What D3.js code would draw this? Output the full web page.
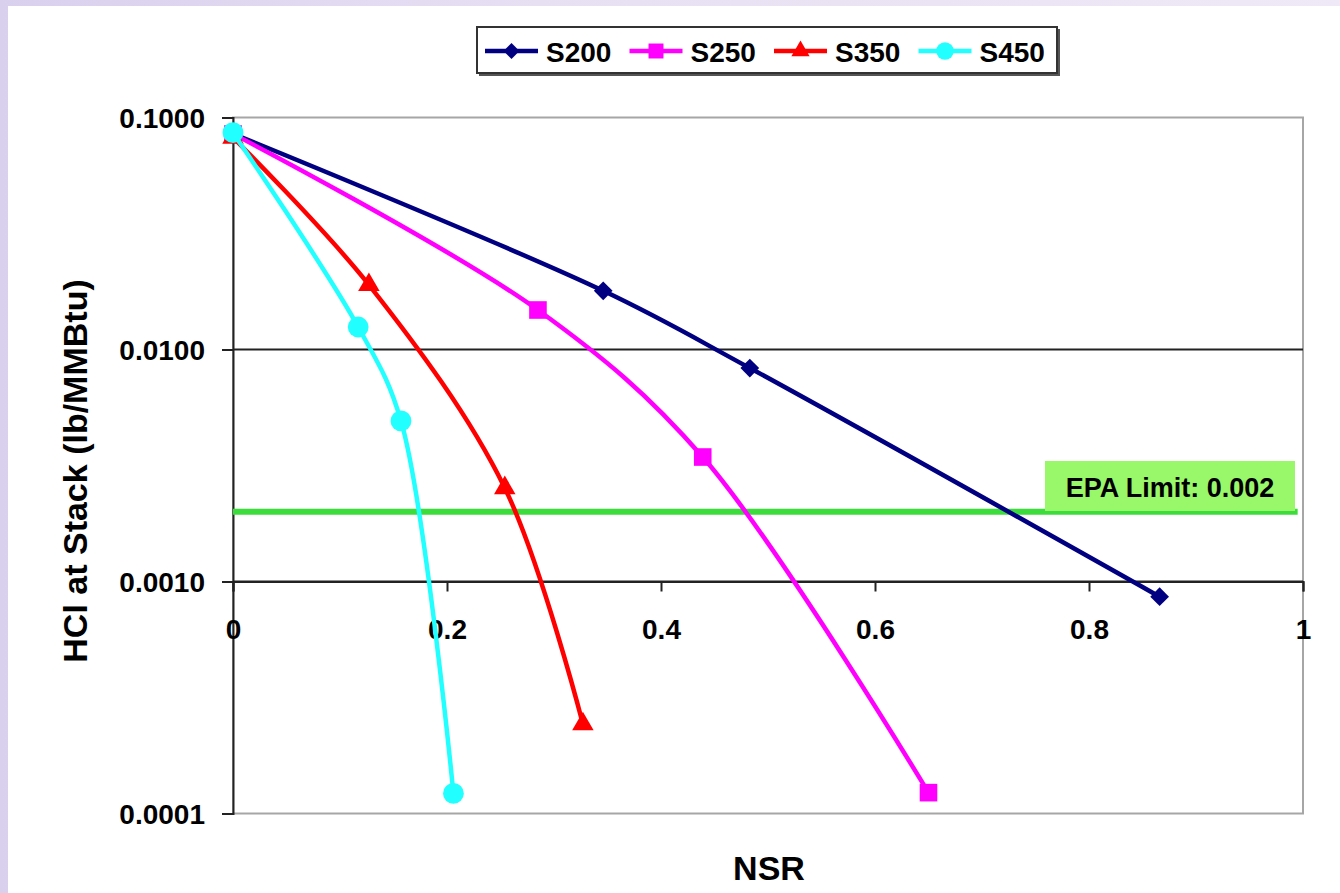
<!DOCTYPE html>
<html>
<head>
<meta charset="utf-8">
<script src="https://cdn.jsdelivr.net/npm/d3@7"></script>
<style>
  html, body { margin: 0; padding: 0; }
  body { width: 1340px; height: 893px; overflow: hidden;
         background: linear-gradient(90deg, #d9d0ee 0%, #e7e0f3 40%, #efe8f6 100%); }
  svg { display: block; font-family: "Liberation Sans", Arial, sans-serif; }
</style>
</head>
<body>
<svg id="chart" width="1340" height="893"></svg>
<script>
// ---- data ----
const seriesNames = ["S200", "S250", "S350", "S450"];
const seriesColors = ["#000080", "#ff00ff", "#ff0000", "#22ffff"];
const seriesMarkers = ["diamond", "square", "triangle", "circle"];
const s200X = [0, 0.346, 0.483, 0.866];
const s200Y = [0.085, 0.0179, 0.00832, 0.00086];
const s250X = [0, 0.285, 0.439, 0.650];
const s250Y = [0.085, 0.0148, 0.00344, 0.000123];
const s350X = [0, 0.127, 0.254, 0.327];
const s350Y = [0.082, 0.019, 0.00253, 0.000243];
const s450X = [0, 0.117, 0.157, 0.206];
const s450Y = [0.086, 0.0125, 0.00492, 0.000122];
const xTicks = [0, 0.2, 0.4, 0.6, 0.8, 1];
const xTickLabels = ["0", "0.2", "0.4", "0.6", "0.8", "1"];
const yTicks = [0.1, 0.01, 0.001, 0.0001];
const yTickLabels = ["0.1000", "0.0100", "0.0010", "0.0001"];
const yGridValues = [0.01, 0.001];
const xAxisCross = 0.001;
const epaLimit = [0.002];
const epaXRange = [0, 0.995];
const epaLabel = "EPA Limit: 0.002";
const xTitle = "NSR";
const yTitle = "HCl at Stack (lb/MMBtu)";

const series = [
  { name: seriesNames[0], xs: s200X, ys: s200Y },
  { name: seriesNames[1], xs: s250X, ys: s250Y },
  { name: seriesNames[2], xs: s350X, ys: s350Y },
  { name: seriesNames[3], xs: s450X, ys: s450Y }
].map((s, i) => ({ ...s, color: seriesColors[i], marker: seriesMarkers[i],
                   pts: s.xs.map((x, j) => [x, s.ys[j]]) }));

// ---- layout ----
const svg = d3.select("#chart");
const L = 233, R = 1303, T = 117.5, B = 813.5;
const x = d3.scaleLinear().domain([0, 1]).range([L, R]);
const y = d3.scaleLog().domain([0.0001, 0.1]).range([B, T]);

// white chart area
svg.append("rect").attr("x", 8).attr("y", 6).attr("width", 1332).attr("height", 887).attr("fill", "#ffffff");

// plot border (gray)
svg.append("rect").attr("x", L).attr("y", T).attr("width", R - L).attr("height", B - T)
  .attr("fill", "none").attr("stroke", "#a6a6a6").attr("stroke-width", 2);

// gridlines
svg.append("g").selectAll("line").data(yGridValues).join("line")
  .attr("x1", L).attr("x2", R).attr("y1", d => y(d)).attr("y2", d => y(d))
  .attr("stroke", "#222222").attr("stroke-width", 2);

// y axis
const yAxis = d3.axisLeft(y).tickValues(yTicks)
  .tickFormat((d, i) => yTickLabels[i]).tickSize(11).tickPadding(17);
const gy = svg.append("g").attr("transform", `translate(${L},0)`).call(yAxis);
gy.select(".domain").attr("stroke", "#222").attr("stroke-width", 2);
gy.selectAll(".tick line").attr("stroke", "#222").attr("stroke-width", 2);
gy.selectAll(".tick text").attr("font-size", 28).attr("font-weight", "bold")
  .attr("fill", "#000").attr("dy", "0.36em")
  .attr("font-family", "'Liberation Sans', Arial, sans-serif");

// x axis crossing at 0.001
const xAxis = d3.axisBottom(x).tickValues(xTicks)
  .tickFormat((d, i) => xTickLabels[i]).tickSize(10).tickPadding(28);
const gx = svg.append("g").attr("transform", `translate(0,${y(xAxisCross)})`).call(xAxis);
gx.select(".domain").attr("stroke", "#222").attr("stroke-width", 2);
gx.selectAll(".tick line").attr("stroke", "#222").attr("stroke-width", 2);
gx.selectAll(".tick text").attr("font-size", 28).attr("font-weight", "bold")
  .attr("fill", "#000").attr("dy", "0.71em")
  .attr("font-family", "'Liberation Sans', Arial, sans-serif");

// EPA limit line
svg.append("g").selectAll("line").data(epaLimit).join("line")
  .attr("x1", x(epaXRange[0])).attr("x2", x(epaXRange[1]))
  .attr("y1", d => y(d)).attr("y2", d => y(d))
  .attr("stroke", "#3ddc3d").attr("stroke-width", 6);

// EPA label box
const eg = svg.append("g");
eg.append("rect").attr("x", 1045).attr("y", 461).attr("width", 250).attr("height", 50)
  .attr("fill", "#99f76a");
eg.append("text").attr("x", 1170).attr("y", 497).attr("text-anchor", "middle")
  .attr("font-size", 27).attr("font-weight", "bold").attr("fill", "#000").text(epaLabel);

// series
const line = d3.line().x(d => x(d[0])).y(d => y(d[1])).curve(d3.curveCatmullRom.alpha(0.5));
function markerPath(type) {
  if (type === "diamond") return d3.symbol().type(d3.symbolSquare).size(175)();
  if (type === "square") return d3.symbol().type(d3.symbolSquare).size(310)();
  if (type === "triangle") return d3.symbol().type(d3.symbolTriangle).size(200)();
  return d3.symbol().type(d3.symbolCircle).size(340)();
}
function markerRot(type) { return type === "diamond" ? " rotate(45)" : ""; }

series.forEach(s => {
  const g = svg.append("g");
  g.append("path").datum(s.pts).attr("d", line).attr("fill", "none")
    .attr("stroke", s.color).attr("stroke-width", 4.5).attr("stroke-linejoin", "round");
  g.selectAll("path.m").data(s.pts).join("path").attr("class", "m")
    .attr("d", markerPath(s.marker))
    .attr("transform", d => `translate(${x(d[0])},${y(d[1])})${markerRot(s.marker)}`)
    .attr("fill", s.color);
});

// legend
const lg = svg.append("g");
lg.append("rect").attr("x", 479).attr("y", 29).attr("width", 581).attr("height", 47).attr("fill", "#555");
lg.append("rect").attr("x", 477).attr("y", 27).attr("width", 580).attr("height", 46)
  .attr("fill", "#fff").attr("stroke", "#333").attr("stroke-width", 2);
series.forEach((s, i) => {
  const x0 = 485 + i * 144.5;
  lg.append("line").attr("x1", x0).attr("x2", x0 + 53).attr("y1", 51).attr("y2", 51)
    .attr("stroke", s.color).attr("stroke-width", 4.5);
  lg.append("path").attr("d", markerPath(s.marker))
    .attr("transform", `translate(${x0 + 26.5},51)${markerRot(s.marker)} scale(0.85)`)
    .attr("fill", s.color);
  lg.append("text").attr("x", x0 + 61).attr("y", 62).attr("font-size", 28)
    .attr("font-weight", "bold").attr("fill", "#000").text(s.name);
});

// axis titles
svg.append("text").attr("x", 769).attr("y", 880).attr("text-anchor", "middle")
  .attr("font-size", 34).attr("font-weight", "bold").attr("fill", "#000").text(xTitle);
svg.append("text").attr("transform", "translate(87,471) rotate(-90)")
  .attr("text-anchor", "middle").attr("font-size", 34).attr("font-weight", "bold")
  .attr("fill", "#000").text(yTitle);
</script>
</body>
</html>
